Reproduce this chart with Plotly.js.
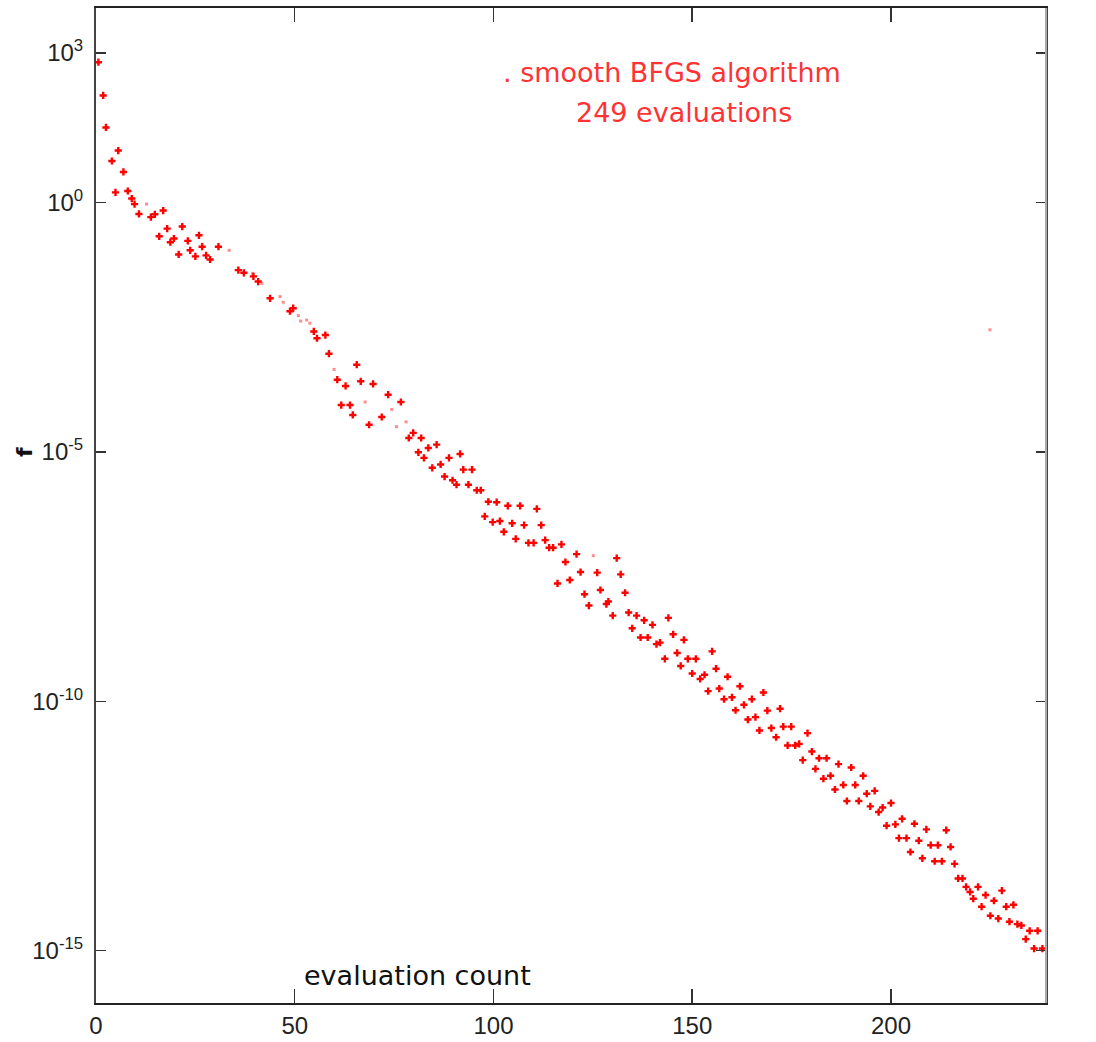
<!DOCTYPE html>
<html>
<head>
<meta charset="utf-8">
<script src="https://cdn.plot.ly/plotly-3.0.1.min.js"></script>
<style>html,body{margin:0;padding:0;background:#fff;}#chart{width:1096px;height:1042px;}</style>
</head>
<body>
<div id="chart"></div>
<script>
// evaluation index (x) and function value f (y) of the main markers
const evalCount = [0.6,1.8,2.5,4.0,4.9,5.6,6.9,8.0,9.0,9.7,10.8,13.8,14.8,15.9,16.9,17.9,18.7,19.6,20.8,21.7,
  23.1,23.7,25.0,25.9,26.7,27.7,28.7,30.8,35.8,37.2,39.6,40.8,43.8,48.8,49.6,54.8,55.6,57.7,58.6,60.7,
  61.7,62.8,63.9,64.6,65.6,66.6,68.7,69.7,71.9,73.5,76.7,78.7,79.8,81.1,81.8,82.5,83.6,84.6,85.7,86.7,
  87.7,88.8,89.7,90.7,91.6,92.4,93.7,94.6,95.8,96.8,97.8,98.7,99.8,100.8,101.6,102.6,103.6,104.7,105.6,106.7,
  107.7,108.8,110.1,110.9,112.0,113.0,114.0,115.0,116.1,117.1,118.1,119.2,120.9,121.9,122.9,124.0,126.1,126.9,128.4,128.9,
  130.0,131.0,132.0,133.1,134.0,134.9,136.0,137.0,137.9,138.8,140.0,141.0,141.9,143.1,144.0,145.2,146.2,147.1,147.9,148.9,
  150.0,150.9,152.0,153.1,154.0,155.0,156.0,156.8,158.0,158.9,160.0,160.9,162.0,163.0,164.0,165.0,165.9,166.9,167.9,168.9,
  169.9,171.1,172.1,172.9,174.0,174.9,175.9,176.9,177.8,179.0,180.1,181.0,181.9,183.0,183.8,184.8,185.9,186.8,188.0,188.9,
  190.0,191.0,191.9,193.0,193.9,194.8,195.9,196.9,197.9,198.9,200.0,201.1,202.0,202.8,203.9,204.9,205.9,207.0,207.9,208.9,
  210.0,211.0,211.8,212.8,213.9,215.0,216.0,216.9,218.0,218.9,219.9,220.7,221.9,222.8,223.8,225.0,225.9,227.0,227.9,229.0,
  229.8,230.8,231.8,232.8,233.9,234.9,236.0,236.9,238.1];
const fValue = [6.5e2,1.4e2,3.2e1,6.8e0,1.6e0,1.1e1,4.1e0,1.7e0,1.2e0,9.3e-1,5.9e-1,5.1e-1,5.8e-1,2.1e-1,6.9e-1,3.0e-1,1.6e-1,1.9e-1,9.1e-2,3.3e-1,
  1.7e-1,1.1e-1,8.3e-2,2.2e-1,1.3e-1,8.7e-2,7.2e-2,1.3e-1,4.4e-2,3.9e-2,3.3e-2,2.6e-2,1.2e-2,6.6e-3,7.6e-3,2.6e-3,1.9e-3,2.2e-3,9.3e-4,2.8e-4,
  8.7e-5,2.1e-4,8.7e-5,5.5e-5,5.6e-4,2.6e-4,3.5e-5,2.3e-4,5.0e-5,1.4e-4,1.0e-4,1.9e-5,2.4e-5,9.8e-6,1.9e-5,7.6e-6,1.2e-5,4.8e-6,1.4e-5,5.6e-6,
  3.2e-6,7.6e-6,2.7e-6,2.2e-6,9.1e-6,4.4e-6,2.2e-6,4.4e-6,1.7e-6,1.7e-6,5.1e-7,1.0e-6,3.9e-7,9.8e-7,4.1e-7,2.5e-7,8.3e-7,3.7e-7,1.8e-7,8.3e-7,
  3.4e-7,1.5e-7,1.5e-7,7.2e-7,3.4e-7,1.7e-7,1.2e-7,1.2e-7,2.3e-8,1.4e-7,6.2e-8,2.7e-8,8.9e-8,3.9e-8,1.4e-8,8.3e-9,3.8e-8,1.7e-8,8.9e-9,1.0e-8,
  5.2e-9,7.4e-8,3.5e-8,1.5e-8,6.0e-9,2.9e-9,5.2e-9,1.9e-9,4.2e-9,1.9e-9,3.4e-9,1.4e-9,1.5e-9,7.1e-10,4.7e-9,2.2e-9,9.3e-10,5.1e-10,1.7e-9,7.1e-10,
  3.6e-10,7.1e-10,2.8e-10,3.4e-10,1.6e-10,1.0e-9,4.5e-10,1.8e-10,1.1e-10,3.1e-10,1.2e-10,6.6e-11,2.0e-10,8.5e-11,4.3e-11,1.1e-10,4.8e-11,2.6e-11,1.5e-10,6.5e-11,
  2.9e-11,1.9e-11,7.1e-11,3.1e-11,1.3e-11,3.1e-11,1.3e-11,1.4e-11,6.6e-12,2.3e-11,9.8e-12,4.4e-12,7.2e-12,2.8e-12,7.2e-12,3.2e-12,1.7e-12,5.5e-12,2.1e-12,1.0e-12,
  4.7e-12,2.1e-12,1.0e-12,3.2e-12,1.4e-12,7.8e-13,1.6e-12,6.0e-13,7.4e-13,3.2e-13,9.1e-13,3.4e-13,1.8e-13,4.4e-13,1.8e-13,9.5e-14,3.5e-13,1.6e-13,7.1e-14,2.7e-13,
  1.3e-13,6.2e-14,1.3e-13,6.2e-14,2.6e-13,1.2e-13,5.5e-14,2.8e-14,2.8e-14,1.9e-14,1.5e-14,1.1e-14,1.9e-14,7.6e-15,1.3e-14,5.0e-15,1.0e-14,4.4e-15,1.6e-14,7.6e-15,
  3.8e-15,8.3e-15,3.4e-15,3.2e-15,1.7e-15,2.5e-15,1.1e-15,2.5e-15,1.1e-15];

// faint (tiny) markers
const faintCount = [12.7,33.5,39.4,41.7,46.3,47.1,50.9,51.5,53.0,53.8,59.9,67.7,74.4,75.6,78.0,125.1,224.9];
const faintValue = [9.3e-1,1.1e-1,3.8e-2,2.4e-2,1.3e-2,1.0e-2,5.4e-3,4.2e-3,4.4e-3,3.8e-3,4.5e-4,1.0e-4,7.1e-5,3.2e-5,4.0e-5,8.3e-8,2.8e-3];

const yTickVals = [1e3, 1e0, 1e-5, 1e-10, 1e-15];
const yTickText = ['10<sup>3</sup>', '10<sup>0</sup>', '10<sup>-5</sup>', '10<sup>-10</sup>', '10<sup>-15</sup>'];
const xTickVals = [0, 50, 100, 150, 200];

const titleLine1 = '. smooth BFGS algorithm';
const titleLine2 = '249 evaluations';
const xLabel = 'evaluation count';
const yLabel = 'f';

const tickFont = {family: '"Liberation Sans Narrow", "Arial Narrow", "Liberation Sans", Arial, sans-serif', size: 24, color: '#222'};
const textFont = {family: '"DejaVu Sans", Verdana, sans-serif', size: 27};

const traces = [
  {
    x: evalCount, y: fValue, type: 'scatter', mode: 'markers',
    marker: {symbol: 'cross', size: 6, color: '#ff0000', line: {width: 0}},
    hoverinfo: 'x+y', showlegend: false
  },
  {
    x: faintCount, y: faintValue, type: 'scatter', mode: 'markers',
    marker: {symbol: 'square', size: 3, color: 'rgba(255,0,0,0.45)', line: {width: 0}},
    hoverinfo: 'x+y', showlegend: false
  }
];

const layout = {
  width: 1096, height: 1042,
  margin: {l: 96, r: 50, t: 8, b: 39},
  paper_bgcolor: '#ffffff', plot_bgcolor: '#ffffff',
  showlegend: false,
  xaxis: {
    range: [0, 239], tickvals: xTickVals, ticktext: xTickVals.map(String),
    ticks: 'inside', ticklen: 14, tickwidth: 1.5, tickcolor: '#333',
    showline: true, linecolor: '#222', linewidth: 2, mirror: 'ticks',
    showgrid: false, zeroline: false, tickfont: tickFont, ticklabelstandoff: 0
  },
  yaxis: {
    type: 'log', range: [-16.05, 3.9], tickvals: yTickVals, ticktext: yTickText,
    ticks: 'inside', ticklen: 10, tickwidth: 1.5, tickcolor: '#333',
    showline: true, linecolor: '#444', linewidth: 2, mirror: 'ticks',
    showgrid: false, zeroline: false, tickfont: tickFont, ticklabelstandoff: 6
  },
  shapes: [
    {type: 'line', xref: 'paper', yref: 'paper', x0: 1, x1: 1, y0: 0, y1: 1,
     line: {color: '#aaaaaa', width: 2}, layer: 'above'}
  ],
  annotations: [
    {xref: 'x', yref: 'paper', x: 145, y: 0.9355, text: titleLine1, showarrow: false,
     font: Object.assign({}, textFont, {color: '#ff3333'}), xanchor: 'center', yanchor: 'middle'},
    {xref: 'x', yref: 'paper', x: 148, y: 0.8953, text: titleLine2, showarrow: false,
     font: Object.assign({}, textFont, {color: '#ff3333'}), xanchor: 'center', yanchor: 'middle'},
    {xref: 'x', yref: 'paper', x: 81, y: 0.028, text: xLabel, showarrow: false,
     font: Object.assign({}, textFont, {color: '#111'}), xanchor: 'center', yanchor: 'middle'},
    {xref: 'paper', yref: 'paper', x: -0.075, y: 0.5535, text: yLabel, showarrow: false, textangle: -90,
     font: {family: '"DejaVu Sans", sans-serif', size: 22, color: '#111', weight: 'bold'},
     xanchor: 'center', yanchor: 'middle'}
  ]
};

Plotly.newPlot('chart', traces, layout, {displayModeBar: false, staticPlot: true});
</script>
</body>
</html>
